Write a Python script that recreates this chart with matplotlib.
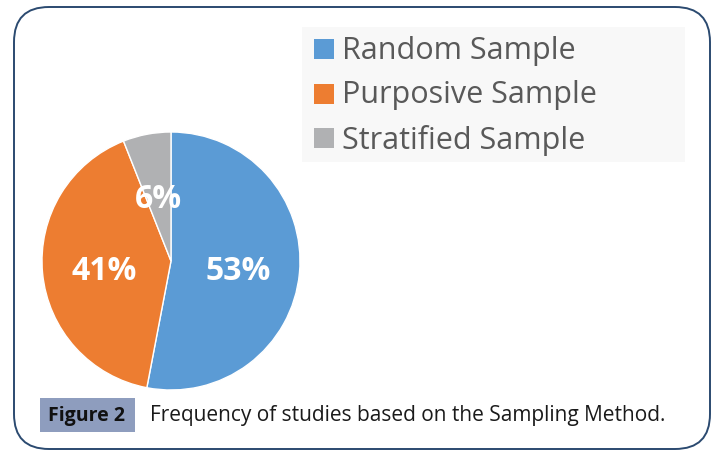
import matplotlib.pyplot as plt
from matplotlib.patches import FancyBboxPatch, Rectangle

labels = ['Random Sample', 'Purposive Sample', 'Stratified Sample']
shares = [53, 41, 6]
colors = ['#5b9bd5', '#ed7d31', '#b0b1b3']
caption_tag = 'Figure 2'
caption = 'Frequency of studies based on the Sampling Method.'

W, H = 717, 450
fig = plt.figure(figsize=(W / 100, H / 100), dpi=100)

# background axes in pixel coordinates for the frame and caption
bg = fig.add_axes([0, 0, 1, 1])
bg.set_xlim(0, W)
bg.set_ylim(H, 0)
bg.axis('off')
bg.add_patch(FancyBboxPatch((14, 7), 696, 442, boxstyle='round,pad=0,rounding_size=35',
                            facecolor='white', edgecolor='#2b4a70', linewidth=1.4))
bg.add_patch(Rectangle((302, 27), 383, 135, facecolor='#f8f8f8', edgecolor='none'))
bg.add_patch(Rectangle((40, 398), 95, 34, facecolor='#8e9dbe', edgecolor='none'))
bg.text(87, 416, caption_tag, ha='center', va='center', fontsize=14,
        fontweight='bold', family='Open Sans', color='#111111')
bg.text(150, 416, caption, ha='left', va='center', fontsize=15,
        family='Open Sans', color='#1a1a1a')

# pie
cx, cy, r = 171, 261, 129
ax = fig.add_axes([(cx - r) / W, (H - cy - r) / H, 2 * r / W, 2 * r / H])
wedges, _, autotexts = ax.pie(shares, colors=colors, startangle=90, counterclock=False,
                              autopct=lambda p: '%d%%' % round(p), pctdistance=0.52,
                              wedgeprops=dict(edgecolor='white', linewidth=1))
for t in autotexts:
    t.set_color('white')
    t.set_fontsize(23)
    t.set_fontweight('bold')
    t.set_family('Open Sans')
    t.set_y(t.get_position()[1] - 0.035)
ax.set_xlim(-1, 1)
ax.set_ylim(-1, 1)

# legend
for i, (lab, col) in enumerate(zip(labels, colors)):
    y = 49 + i * 44.5
    bg.add_patch(Rectangle((314, y - 10), 20, 20, facecolor=col, edgecolor='none'))
    bg.text(342, y + 2, lab, ha='left', va='center', fontsize=22,
            family='Open Sans', color='#595959')

fig.savefig('out.png', dpi=100)
